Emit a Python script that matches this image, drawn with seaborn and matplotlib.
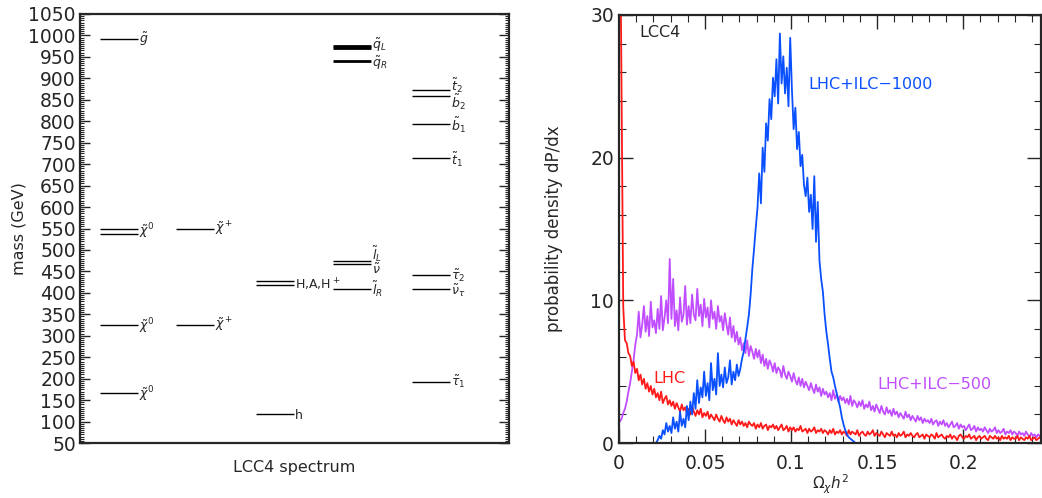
import numpy as np
import pandas as pd
import seaborn as sns
import matplotlib.pyplot as plt
from matplotlib.ticker import MultipleLocator

# ---- left panel: LCC4 sparticle spectrum (GeV) ----
spec_mass = [991, 550, 538, 325, 167,
             550, 325,
             428, 418, 117,
             975, 970, 940, 475, 467, 409,
             874, 860, 794, 714, 441, 408, 193]
spec_col = [0, 0, 0, 0, 0,
            1, 1,
            2, 2, 2,
            3, 3, 3, 3, 3, 3,
            4, 4, 4, 4, 4, 4, 4]
spec_label = [r'$\tilde{g}$', '', r'$\tilde{\chi}^0$', r'$\tilde{\chi}^0$', r'$\tilde{\chi}^0$',
              r'$\tilde{\chi}^+$', r'$\tilde{\chi}^+$',
              '', r'H,A,H$^+$', 'h',
              r'$\tilde{q}_L$', '', r'$\tilde{q}_R$', r'$\tilde{l}_L$', r'$\tilde{\nu}$', r'$\tilde{l}_R$',
              r'$\tilde{t}_2$', r'$\tilde{b}_2$', r'$\tilde{b}_1$', r'$\tilde{t}_1$',
              r'$\tilde{\tau}_2$', r'$\tilde{\nu}_\tau$', r'$\tilde{\tau}_1$']

# ---- right panel: probability density dP/dx of Omega h^2, bins of 0.001 ----
lhc = [40, 25, 9.5, 7.2, 7.0, 6.3, 6.1, 5.4, 5.7, 4.9,
       5.2, 4.4, 4.8, 4.1, 4.5, 3.8, 4.2, 3.6, 4.0, 3.4,
       3.8, 3.2, 3.5, 3.0, 3.6, 2.8, 3.1, 3.3, 2.7, 3.0,
       2.6, 2.9, 2.4, 2.8, 2.5, 2.2, 2.7, 2.3, 2.5, 2.1,
       2.4, 2.0, 2.6, 2.2, 1.9, 2.3, 2.0, 2.4, 1.8, 2.1,
       1.9, 2.2, 1.7, 2.0, 1.8, 1.6, 2.0, 1.7, 1.5, 1.9,
       1.6, 1.4, 1.8, 1.5, 1.7, 1.3, 1.6, 1.4, 1.2, 1.6,
       1.3, 1.5, 1.2, 1.4, 1.1, 1.5, 1.3, 1.2, 1.4, 1.0,
       1.3, 1.1, 1.4, 1.0, 1.2, 1.3, 0.9, 1.2, 1.1, 1.3,
       1.0, 1.2, 0.9, 1.1, 1.3, 0.9, 1.0, 1.2, 0.8, 1.1,
       0.9, 1.1, 0.8, 1.0, 0.9, 1.2, 0.8, 0.9, 1.0, 0.7,
       1.0, 0.8, 0.9, 1.1, 0.7, 0.9, 0.8, 1.0, 0.7, 0.9,
       0.8, 0.6, 0.9, 0.7, 1.0, 0.6, 0.8, 0.7, 0.9, 0.6,
       0.8, 0.7, 0.5, 0.9, 0.6, 0.8, 0.7, 0.6, 0.9, 0.5,
       0.7, 0.8, 0.6, 0.5, 0.8, 0.6, 0.7, 0.9, 0.5, 0.7,
       0.6, 0.5, 0.8, 0.6, 0.4, 0.7, 0.6, 0.5, 0.8, 0.5,
       0.6, 0.4, 0.7, 0.5, 0.6, 0.8, 0.4, 0.6, 0.5, 0.7,
       0.5, 0.4, 0.6, 0.7, 0.4, 0.5, 0.6, 0.3, 0.6, 0.5,
       0.4, 0.6, 0.5, 0.3, 0.7, 0.4, 0.5, 0.6, 0.4, 0.3,
       0.5, 0.4, 0.6, 0.3, 0.5, 0.4, 0.2, 0.5, 0.6, 0.4,
       0.3, 0.5, 0.4, 0.6, 0.3, 0.4, 0.5, 0.2, 0.4, 0.5,
       0.3, 0.4, 0.5, 0.3, 0.2, 0.5, 0.4, 0.3, 0.5, 0.3,
       0.4, 0.2, 0.5, 0.3, 0.4, 0.3, 0.5, 0.2, 0.4, 0.3,
       0.3, 0.5, 0.2, 0.4, 0.3, 0.2, 0.4, 0.3, 0.5, 0.2,
       0.3, 0.4, 0.2, 0.3, 0.4, 0.3]
ilc500 = [1.5, 1.7, 2.1, 2.4, 2.9, 3.6, 4.2, 5.0, 5.8, 6.9,
          7.6, 9.2, 7.4, 8.3, 9.6, 7.8, 8.9, 7.5, 9.9, 8.1,
          8.6, 7.7, 9.4, 8.0, 10.3, 7.9, 8.8, 10.0, 8.4, 12.9,
          8.7, 11.5, 8.2, 9.3, 7.9, 10.2, 8.5, 9.0, 11.0, 8.3,
          9.6, 8.4, 10.4, 9.0, 8.6, 10.8, 8.9, 9.7, 8.2, 10.1,
          8.8, 9.5, 8.1, 10.0, 8.7, 9.2, 8.0, 9.6, 8.5, 8.9,
          7.9, 9.1, 8.3, 7.6, 8.8, 7.4, 8.2, 7.1, 7.8, 6.9,
          7.4, 6.5, 7.0, 6.3, 7.2, 6.1, 6.8, 6.4, 5.9, 6.6,
          6.0, 6.5, 5.6, 6.2, 5.4, 5.9, 5.2, 5.8, 5.5, 5.0,
          5.6, 4.9, 5.3, 5.1, 4.6, 5.4, 4.8, 4.5, 5.0, 4.7,
          4.3, 4.9, 4.4, 4.1, 4.6, 4.0, 4.5, 3.9, 4.3, 4.0,
          3.7, 4.2, 3.8, 3.5, 4.1, 3.6, 3.9, 3.3, 3.8, 3.4,
          3.6, 3.2, 3.5, 3.0, 3.7, 3.1, 3.4, 2.9, 3.3, 3.0,
          3.2, 2.8, 3.1, 2.7, 3.3, 2.6, 3.0, 2.8, 2.5, 2.9,
          2.6, 3.0, 2.4, 2.7, 2.5, 2.9, 2.3, 2.6, 2.2, 2.7,
          2.4, 2.1, 2.6, 2.2, 2.0, 2.5, 2.1, 2.3, 1.9, 2.4,
          2.0, 2.2, 1.8, 2.1, 1.9, 1.7, 2.2, 1.8, 2.0, 1.6,
          1.9, 1.7, 1.5, 1.9, 1.6, 1.8, 1.4, 1.7, 1.5, 1.6,
          1.4, 1.7, 1.3, 1.5, 1.6, 1.2, 1.5, 1.3, 1.6, 1.2,
          1.4, 1.1, 1.3, 1.5, 1.1, 1.2, 1.4, 1.0, 1.3, 1.1,
          1.2, 0.9, 1.1, 1.3, 0.9, 1.0, 1.2, 0.8, 1.1, 0.9,
          1.0, 0.8, 1.1, 0.9, 0.7, 1.0, 0.8, 0.9, 1.1, 0.7,
          0.9, 0.7, 0.8, 1.0, 0.6, 0.8, 0.7, 0.9, 0.6, 0.8,
          0.7, 0.5, 0.8, 0.6, 0.7, 0.5, 0.8, 0.6, 0.4, 0.7,
          0.5, 0.6, 0.4, 0.6, 0.5, 0.4]
ilc1000 = ([0] * 20 +
           [0, 0, 0.2, 0.5, 0.3, 0.9, 0.6, 1.4, 0.8, 1.2,
            0.7, 1.8, 1.0, 1.5, 0.8, 2.2, 1.2, 1.7, 1.1, 2.6,
            1.6, 2.9, 2.0, 3.5, 2.4, 4.4, 2.8, 3.9, 3.2, 5.0,
            3.3, 4.2, 3.0, 5.6, 3.7, 4.5, 3.4, 6.3, 4.0, 4.8,
            3.9, 5.3, 4.2, 4.6, 5.8, 4.1, 5.0, 4.4, 5.5, 4.7,
            5.2, 5.9, 6.4, 7.3, 8.1, 9.0, 10.4, 12.2, 13.6, 15.1,
            16.5, 18.9, 16.8, 20.7, 19.0, 22.4, 21.2, 24.1, 22.7, 25.6,
            24.3, 26.9, 23.8, 28.7, 25.2, 27.1, 24.5, 26.3, 23.6, 28.4,
            24.8, 22.0, 23.5, 20.6, 21.8, 19.4, 20.2, 18.1, 17.3, 18.6,
            16.2, 17.4, 15.0, 18.7, 14.1, 16.9, 12.8, 11.5, 10.6, 9.0,
            7.8, 6.9, 5.9, 5.0, 4.6, 4.0, 3.5, 3.0, 2.5, 1.8,
            1.3, 0.9, 0.6, 0.4, 0.3, 0.2, 0.1, 0, 0, 0] +
           [0] * 106)

series_names = ['LHC+ILC-500', 'LHC', 'LHC+ILC-1000']
colors = {'LHC': '#ff1a1a', 'LHC+ILC-500': '#c04dff', 'LHC+ILC-1000': '#0a50ff'}

sns.set_style('ticks')
plt.rcParams['font.family'] = ['DejaVu Sans']

fig = plt.figure(figsize=(10.42, 4.98), dpi=100)
ax1 = fig.add_axes([0.0768, 0.1104, 0.4117, 0.8615])
ax2 = fig.add_axes([0.594, 0.1104, 0.4055, 0.8595])

# spectrum lines
col_x0 = [0.047, 0.224, 0.41, 0.59, 0.774]
col_w = 0.088
thick = {10, 11, 12}
nudge = {2: 6, 3: -2, 4: -4, 9: -3, 10: 3, 12: -5, 13: 16, 14: -13,
         16: 9, 17: -15, 18: -4, 19: -4, 21: -4}
for i, (m, c, lab) in enumerate(zip(spec_mass, spec_col, spec_label)):
    x0 = col_x0[c]
    ax1.hlines(m, x0, x0 + col_w, color='black', lw=2.0 if i in thick else 1.0)
    if lab:
        ax1.text(x0 + col_w + 0.003, m + nudge.get(i, 0), lab, fontsize=9,
                 ha='left', va='center')

ax1.set_xlim(0, 1)
ax1.set_ylim(50, 1050)
ax1.set_xticks([])
ax1.yaxis.set_major_locator(MultipleLocator(50))
ax1.yaxis.set_minor_locator(MultipleLocator(5))
ax1.tick_params(axis='y', which='both', direction='in', left=True, right=True,
                labelsize=13.5, pad=3)
ax1.tick_params(axis='y', which='major', length=7, width=1)
ax1.tick_params(axis='y', which='minor', length=3, width=0.8)
ax1.set_ylabel('mass (GeV)', fontsize=11.5, labelpad=1)
ax1.set_xlabel('LCC4 spectrum', fontsize=11.5, labelpad=12)
for s in ax1.spines.values():
    s.set_linewidth(1.6)

# density histograms
omega = 0.0005 + 0.001 * np.arange(len(lhc))
df = pd.DataFrame({
    'omega': np.concatenate([omega, omega, omega]),
    'density': ilc500 + lhc + ilc1000,
    'fit': ['LHC+ILC-500'] * len(ilc500) + ['LHC'] * len(lhc) + ['LHC+ILC-1000'] * len(ilc1000),
})
sns.lineplot(data=df, x='omega', y='density', hue='fit', hue_order=series_names,
             palette=colors, estimator=None, lw=1.3, legend=False, ax=ax2)

ax2.set_xlim(0, 0.2455)
ax2.set_ylim(0, 30)
ax2.set_xticks([0, 0.05, 0.1, 0.15, 0.2])
ax2.set_xticklabels(['0', '0.05', '0.1', '0.15', '0.2'])
ax2.set_yticks([0, 10, 20, 30])
ax2.xaxis.set_minor_locator(MultipleLocator(0.01))
ax2.yaxis.set_minor_locator(MultipleLocator(2))
ax2.tick_params(which='both', direction='in', top=True, right=True, labelsize=13.5)
ax2.tick_params(which='major', length=10, width=1)
ax2.tick_params(which='minor', length=5, width=0.8)
ax2.tick_params(axis='x', pad=8)
ax2.set_xlabel(r'$\Omega_\chi h^2$', fontsize=11, labelpad=0)
ax2.set_ylabel('probability density dP/dx', fontsize=12, labelpad=20)
for s in ax2.spines.values():
    s.set_linewidth(1.6)

ax2.text(0.012, 28.8, 'LCC4', fontsize=11.5, va='center')
ax2.text(0.020, 4.5, 'LHC', color=colors['LHC'], fontsize=11.5, va='center')
ax2.text(0.150, 4.1, 'LHC+ILC\u2212500', color=colors['LHC+ILC-500'],
         fontsize=11.5, va='center')
ax2.text(0.110, 25.1, 'LHC+ILC\u22121000', color=colors['LHC+ILC-1000'],
         fontsize=11.5, va='center')

fig.savefig('out.png', dpi=100)
